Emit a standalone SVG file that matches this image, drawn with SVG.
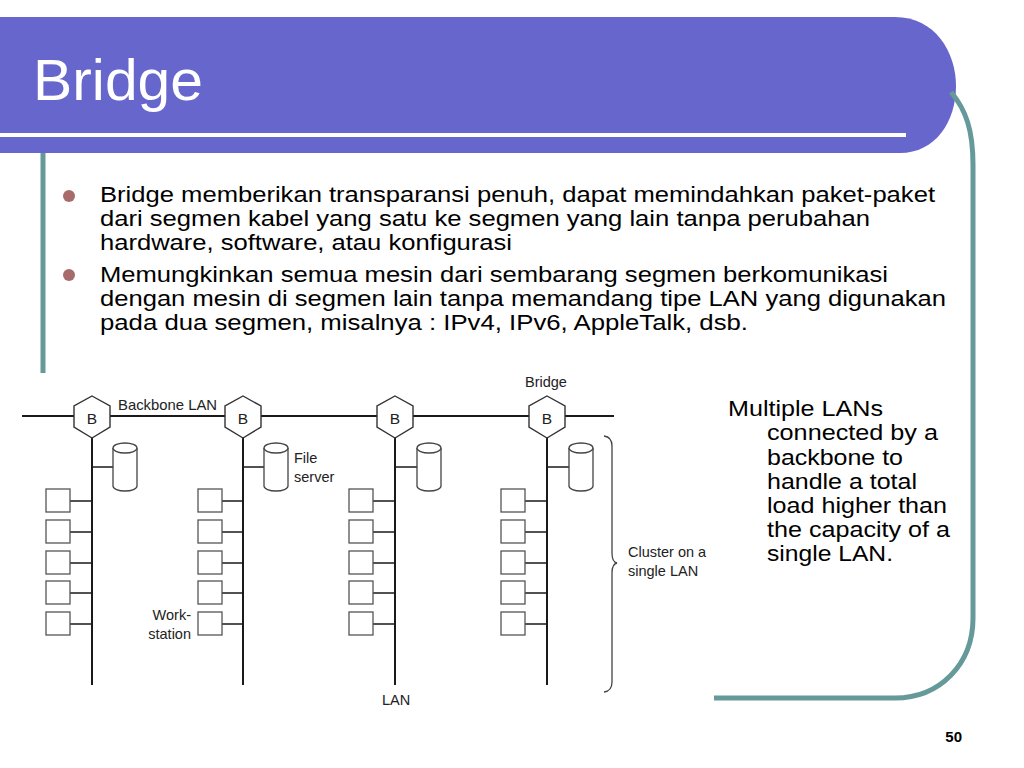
<svg xmlns="http://www.w3.org/2000/svg" xmlns:xlink="http://www.w3.org/1999/xlink" width="1024" height="768" viewBox="0 0 1024 768">
<style>
.body{font-family:"Liberation Sans",Arial,sans-serif;font-size:22px;fill:#000}
.cap{font-family:"Liberation Sans",Arial,sans-serif;font-size:22px;fill:#000}
.lbl{font-family:"Liberation Sans",Arial,sans-serif;font-size:14.5px;fill:#222}
.hb{font-family:"Liberation Sans",Arial,sans-serif;font-size:15.5px;fill:#222}
.wire{stroke:#1a1a1a;stroke-width:2;fill:none}
.stub{stroke:#1a1a1a;stroke-width:1.6;fill:none}
.ws{fill:#fff;stroke:#555;stroke-width:1.3}
.hex{fill:#fff;stroke:#333;stroke-width:1.4}
.cyl{fill:#fff;stroke:#444;stroke-width:1.3}
.frame{fill:none;stroke:#669999;stroke-width:5}
</style>
<defs>
<polygon id="hexShape" class="hex" points="0,-21 18,-11 18,10 0,21 -18,10 -18,-11"/>
<g id="cylShape">
<path class="cyl" d="M0,5 A12,5 0 0,1 24,5 V43 A12,5 0 0,1 0,43 Z"/>
<path class="cyl" d="M0,5 A12,5 0 0,0 24,5"/>
</g>
<rect id="wsShape" class="ws" x="0" y="0" width="24" height="23"/>
</defs>
<rect width="1024" height="768" fill="#fff"/>
<!-- frame -->
<g id="frame">
<path d="M0,17 H895 C935,17 956,52 956,86 C956,122 935,153 900,153 H0 Z" fill="#6666CC"/>
<rect x="0" y="133" width="906" height="4" fill="#fff"/>
<line class="frame" x1="43" y1="153" x2="43" y2="373"/>
<path class="frame" d="M951,92 C966,110 973,130 973,165 V618 C973,664 940,698 895,698 H714"/>
<text x="33" y="100" font-family="'Liberation Sans',Arial,sans-serif" font-size="58" fill="#fff" textLength="170" lengthAdjust="spacingAndGlyphs">Bridge</text>
<text x="962" y="742" font-family="'Liberation Sans',Arial,sans-serif" font-size="15" font-weight="bold" fill="#000" text-anchor="end">50</text>
</g>
<!-- bullets -->
<g id="bullets">
<circle cx="69" cy="196" r="6" fill="#A86B6B"/>
<circle cx="69" cy="275" r="6" fill="#A86B6B"/>
<text class="body" x="100" y="202" textLength="835" lengthAdjust="spacingAndGlyphs">Bridge memberikan transparansi penuh, dapat memindahkan paket-paket</text>
<text class="body" x="100" y="226" textLength="770" lengthAdjust="spacingAndGlyphs">dari segmen kabel yang satu ke segmen yang lain tanpa perubahan</text>
<text class="body" x="100" y="250" textLength="412" lengthAdjust="spacingAndGlyphs">hardware, software, atau konfigurasi</text>
<text class="body" x="100" y="282" textLength="788" lengthAdjust="spacingAndGlyphs">Memungkinkan semua mesin dari sembarang segmen berkomunikasi</text>
<text class="body" x="100" y="306" textLength="846" lengthAdjust="spacingAndGlyphs">dengan mesin di segmen lain tanpa memandang tipe LAN yang digunakan</text>
<text class="body" x="100" y="330" textLength="648" lengthAdjust="spacingAndGlyphs">pada dua segmen, misalnya : IPv4, IPv6, AppleTalk, dsb.</text>
</g>
<g id="caption">
<text class="cap" x="728" y="416" textLength="155" lengthAdjust="spacingAndGlyphs">Multiple LANs</text>
<text class="cap" x="767" y="440" textLength="171" lengthAdjust="spacingAndGlyphs">connected by a</text>
<text class="cap" x="767" y="465" textLength="136" lengthAdjust="spacingAndGlyphs">backbone to</text>
<text class="cap" x="767" y="489" textLength="150" lengthAdjust="spacingAndGlyphs">handle a total</text>
<text class="cap" x="767" y="513" textLength="180" lengthAdjust="spacingAndGlyphs">load higher than</text>
<text class="cap" x="767" y="537" textLength="183" lengthAdjust="spacingAndGlyphs">the capacity of a</text>
<text class="cap" x="767" y="561" textLength="126" lengthAdjust="spacingAndGlyphs">single LAN.</text>
</g>
<!-- connectors -->
<g id="connectors">
<line class="wire" x1="22" y1="416" x2="614" y2="416"/>
<line class="wire" x1="92" y1="438" x2="92" y2="685"/>
<line class="wire" x1="243" y1="438" x2="243" y2="685"/>
<line class="wire" x1="395" y1="438" x2="395" y2="685"/>
<line class="wire" x1="547" y1="438" x2="547" y2="685"/>
<path class="stub" d="M92,467 H113 M243,467 H264 M395,467 H417 M547,467 H569"/>
<path class="stub" d="M70,501 H92 M70,532 H92 M70,563 H92 M70,593 H92 M70,624 H92"/>
<path class="stub" d="M221,501 H243 M221,532 H243 M221,563 H243 M221,593 H243 M221,624 H243"/>
<path class="stub" d="M373,501 H395 M373,532 H395 M373,563 H395 M373,593 H395 M373,624 H395"/>
<path class="stub" d="M525,501 H547 M525,532 H547 M525,563 H547 M525,593 H547 M525,624 H547"/>
</g>
<!-- bridges -->
<g id="bridge1"><use xlink:href="#hexShape" x="92" y="417"/><text class="hb" x="92" y="424" text-anchor="middle">B</text></g>
<g id="bridge2"><use xlink:href="#hexShape" x="243" y="417"/><text class="hb" x="243" y="424" text-anchor="middle">B</text></g>
<g id="bridge3"><use xlink:href="#hexShape" x="395" y="417"/><text class="hb" x="395" y="424" text-anchor="middle">B</text></g>
<g id="bridge4"><use xlink:href="#hexShape" x="547" y="417"/><text class="hb" x="547" y="424" text-anchor="middle">B</text></g>
<!-- servers -->
<g id="server1"><use xlink:href="#cylShape" x="113" y="443"/></g>
<g id="server2"><use xlink:href="#cylShape" x="264" y="443"/></g>
<g id="server3"><use xlink:href="#cylShape" x="417" y="443"/></g>
<g id="server4"><use xlink:href="#cylShape" x="569" y="443"/></g>
<!-- workstations -->
<g id="ws-lan1">
<use xlink:href="#wsShape" x="46" y="489"/><use xlink:href="#wsShape" x="46" y="520"/><use xlink:href="#wsShape" x="46" y="551"/><use xlink:href="#wsShape" x="46" y="581"/><use xlink:href="#wsShape" x="46" y="612"/>
</g>
<g id="ws-lan2">
<use xlink:href="#wsShape" x="198" y="489"/><use xlink:href="#wsShape" x="198" y="520"/><use xlink:href="#wsShape" x="198" y="551"/><use xlink:href="#wsShape" x="198" y="581"/><use xlink:href="#wsShape" x="198" y="612"/>
</g>
<g id="ws-lan3">
<use xlink:href="#wsShape" x="349" y="489"/><use xlink:href="#wsShape" x="349" y="520"/><use xlink:href="#wsShape" x="349" y="551"/><use xlink:href="#wsShape" x="349" y="581"/><use xlink:href="#wsShape" x="349" y="612"/>
</g>
<g id="ws-lan4">
<use xlink:href="#wsShape" x="501" y="489"/><use xlink:href="#wsShape" x="501" y="520"/><use xlink:href="#wsShape" x="501" y="551"/><use xlink:href="#wsShape" x="501" y="581"/><use xlink:href="#wsShape" x="501" y="612"/>
</g>
<!-- brace -->
<g id="cluster-brace">
<path d="M604,436 Q612,437 612,446 V553 Q612,562 617,563 Q612,564 612,573 V682 Q612,691 604,692" fill="none" stroke="#444" stroke-width="1.3"/>
</g>
<!-- labels -->
<g id="labels">
<text class="lbl" x="118" y="410" textLength="99" lengthAdjust="spacingAndGlyphs">Backbone LAN</text>
<text class="lbl" x="525" y="387">Bridge</text>
<text class="lbl" x="294" y="463">File</text>
<text class="lbl" x="294" y="482">server</text>
<text class="lbl" x="191" y="620" text-anchor="end">Work-</text>
<text class="lbl" x="191" y="639" text-anchor="end">station</text>
<text class="lbl" x="396" y="705" text-anchor="middle">LAN</text>
<text class="lbl" x="628" y="557">Cluster on a</text>
<text class="lbl" x="628" y="576">single LAN</text>
</g>
</svg>
